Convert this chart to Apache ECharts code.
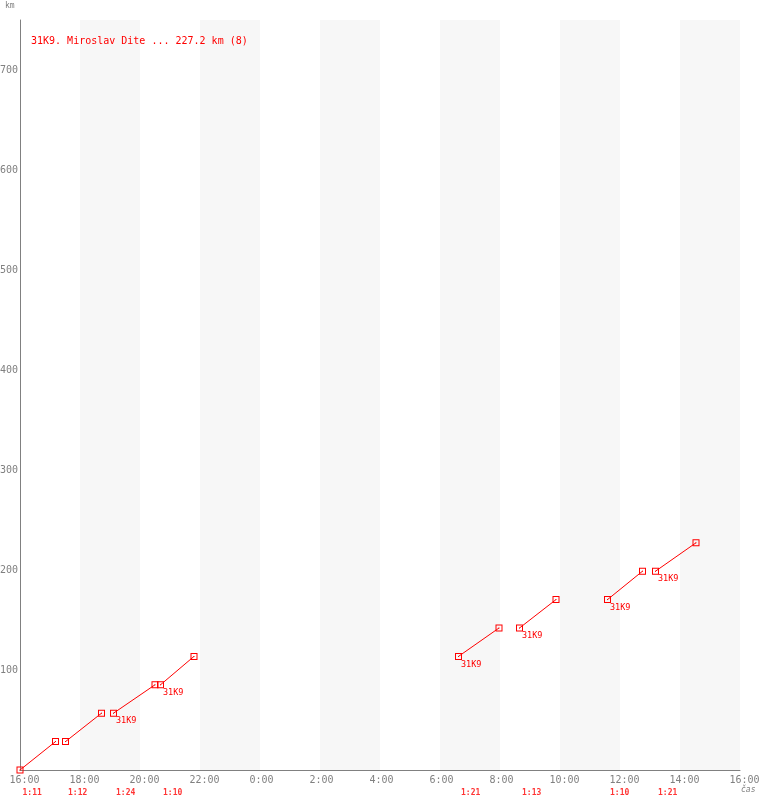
<!DOCTYPE html>
<html>
<head>
<meta charset="utf-8">
<script src="https://cdn.jsdelivr.net/npm/echarts@6/dist/echarts.min.js"></script>
<style>html,body{margin:0;padding:0;background:#fff}#c{width:760px;height:800px}</style>
</head>
<body>
<div id="c"></div>
<script>
// ---- data ----
const startTimes = ["16:00", "17:31", "19:07", "20:41", "6:37", "8:39", "11:35", "13:11"];
const endTimes   = ["17:11", "18:43", "20:30", "21:48", "7:58", "9:52", "12:45", "14:32"];
const startKm    = [0, 28.4, 56.8, 85.2, 113.6, 142.0, 170.4, 198.8];
const endKm      = [28.4, 56.8, 85.2, 113.6, 142.0, 170.4, 198.8, 227.2];
const durations  = ["1:11", "1:12", "1:24", "1:10", "1:21", "1:13", "1:10", "1:21"];
const pointLabels = ["", "", "31K9", "31K9", "31K9", "31K9", "31K9", "31K9"];
const titleText = "31K9. Miroslav Dite ... 227.2 km (8)";
const yTicks = [100, 200, 300, 400, 500, 600, 700];

const FONT = "DejaVu Sans Mono";
const RED = "#ff0000";
const GRAY = "#808080";

function hoursFrom16(t) {
  const [h, m] = t.split(":").map(Number);
  return ((h - 16 + 24) % 24) + m / 60;
}

const marker = 'path://M0,0H7V7H0Z M1,1V6H6V1Z M3,3H4V4H3Z';

const series = startTimes.map((s, i) => ({
  type: 'line',
  data: [
    { value: [hoursFrom16(s), startKm[i]],
      label: { show: !!pointLabels[i], formatter: pointLabels[i] } },
    { value: [hoursFrom16(endTimes[i]), endKm[i]], label: { show: false } }
  ],
  symbol: marker,
  symbolSize: 7,
  showAllSymbol: true,
  lineStyle: { color: RED, width: 1 },
  itemStyle: { color: RED },
  label: { position: [6, 7], color: RED, fontFamily: FONT, fontSize: 8.5 },
  emphasis: { disabled: true },
  animation: false,
  clip: false,
  z: 3
}));

series.push({
  type: 'scatter',
  data: startTimes.map((s, i) => ({ value: [hoursFrom16(s), 0], name: durations[i] })),
  symbolSize: 1,
  itemStyle: { color: 'transparent' },
  label: {
    show: true, position: [3, 19], formatter: p => p.name,
    color: RED, fontFamily: FONT, fontSize: 8, fontWeight: 'bold'
  },
  emphasis: { disabled: true },
  animation: false,
  clip: false,
  z: 4
});

const tickTextStyle = { color: GRAY, fontFamily: FONT, fontSize: 10 };

const chart = echarts.init(document.getElementById('c'), null, { renderer: 'canvas' });
chart.setOption({
  backgroundColor: '#fff',
  animation: false,
  title: {
    text: titleText, left: 26, top: 31,
    textStyle: { color: RED, fontFamily: FONT, fontSize: 10, fontWeight: 'normal' }
  },
  grid: { left: 20, right: 20, top: 20, bottom: 30, containLabel: false, outerBoundsMode: 'none' },
  xAxis: {
    type: 'value', min: 0, max: 24, interval: 2,
    axisLine: { show: true, lineStyle: { color: GRAY, width: 1 } },
    axisTick: { show: false },
    splitLine: { show: false },
    splitArea: { show: true, areaStyle: { color: ['#ffffff', '#f7f7f7'] } },
    axisLabel: {
      margin: 5, color: GRAY, fontFamily: FONT, fontSize: 10,
      formatter: v => {
        const s = ((16 + v) % 24) + ":00";
        return '{' + (s.length === 5 ? 'five' : 'four') + '|' + s + '}';
      },
      rich: {
        five: Object.assign({ padding: [0, 0, 0, 9] }, tickTextStyle),
        four: Object.assign({ padding: [0, 0, 0, 3] }, tickTextStyle)
      }
    }
  },
  yAxis: {
    type: 'value', min: 0, max: 750, interval: 100,
    axisLine: { show: true, lineStyle: { color: GRAY, width: 1 } },
    axisTick: { show: false },
    splitLine: { show: true, showMinLine: false, showMaxLine: false, lineStyle: { color: '#efefef', width: 1 } },
    axisLabel: {
      margin: 2, color: GRAY, fontFamily: FONT, fontSize: 10,
      showMinLabel: false, showMaxLabel: false,
      formatter: v => (yTicks.includes(v) ? String(v) : '')
    }
  },
  graphic: [
    { type: 'text', left: 5, top: 2, style: { text: 'km', fill: GRAY, font: '8px ' + FONT } },
    { type: 'text', left: 741, top: 786, style: { text: 'čas', fill: GRAY, font: 'italic 8px ' + FONT } }
  ],
  series
});
</script>
</body>
</html>
